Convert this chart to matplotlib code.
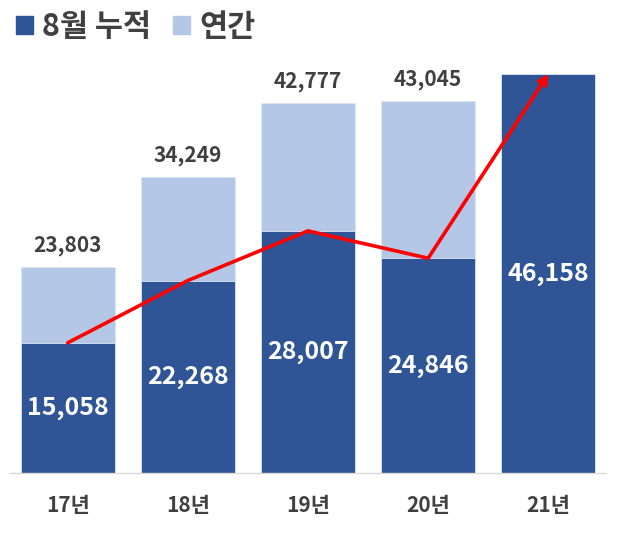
import numpy as np
import matplotlib
matplotlib.use('Agg')
import matplotlib.pyplot as plt
from matplotlib.patches import Patch

plt.rcParams['font.family'] = ['Noto Sans CJK KR', 'DejaVu Sans']

# data
years = ['17년', '18년', '19년', '20년', '21년']
aug_cum = [15058, 22268, 28007, 24846, 46158]
annual = [23803, 34249, 42777, 43045, None]

dark = '#2F5597'
light = '#B4C7E7'
txt = '#404040'

W, H = 617, 533
fig = plt.figure(figsize=(W / 100, H / 100), dpi=100)
# axes placed in pixel units: baseline at y=473, top at y=40
base_px, top_px = 473, 40
ax = fig.add_axes([10 / W, 1 - base_px / H, 596 / W, (base_px - top_px) / H])

x = np.arange(len(years))
bw = 0.78
ann = [np.nan if v is None else v for v in annual]
ax.bar(x, ann, width=bw, color=light, edgecolor='#dde6f5', linewidth=0.6, zorder=1)
ax.bar(x, aug_cum, width=bw, color=dark, edgecolor='#dde6f5', linewidth=0.6, zorder=2)

ymax = max(aug_cum) * (base_px - top_px) / (base_px - 74)
ax.set_ylim(0, ymax)
ax.set_xlim(-0.48, 4.48)

# red trend line with arrow on the last segment
ax.plot(x[:-1], aug_cum[:-1], color='#FF0000', lw=2.6, solid_capstyle='round',
        solid_joinstyle='round', zorder=3)
ax.annotate('', xy=(x[-1], aug_cum[-1]), xytext=(x[-2], aug_cum[-2]),
            arrowprops=dict(arrowstyle='-|>,head_length=0.55,head_width=0.3',
                            color='#FF0000', lw=2.6, shrinkA=0, shrinkB=0),
            zorder=4, annotation_clip=False)

# labels
for i, v in enumerate(aug_cum):
    ax.text(x[i], v / 2, f'{v:,}', ha='center', va='center', color='white',
            fontsize=18, fontweight='bold', zorder=5)
for i, v in enumerate(annual):
    if v is None:
        continue
    ax.text(x[i], v + ymax * 0.05, f'{v:,}', ha='center', va='center', color=txt,
            fontsize=15, fontweight='bold', zorder=5)

ax.set_xticks(x)
ax.set_xticklabels(years, fontsize=15, fontweight='bold', color=txt)
ax.tick_params(axis='x', length=0, pad=16)
ax.set_yticks([])
for s in ['top', 'right', 'left']:
    ax.spines[s].set_visible(False)
ax.spines['bottom'].set_color('#d9d9d9')
ax.spines['bottom'].set_linewidth(1.0)

handles = [Patch(facecolor=dark, edgecolor=dark), Patch(facecolor=light, edgecolor=light)]
leg = fig.legend(handles, ['8월 누적', '연간'], loc='upper left', bbox_to_anchor=(-0.008, 1.02),
                 ncol=2, frameon=False, handlelength=0.55, handleheight=0.55,
                 handletextpad=0.3, columnspacing=0.7, borderaxespad=0.3,
                 prop={'size': 22, 'weight': 'bold'})
for t in leg.get_texts():
    t.set_color(txt)

fig.savefig('out.png', dpi=100)
